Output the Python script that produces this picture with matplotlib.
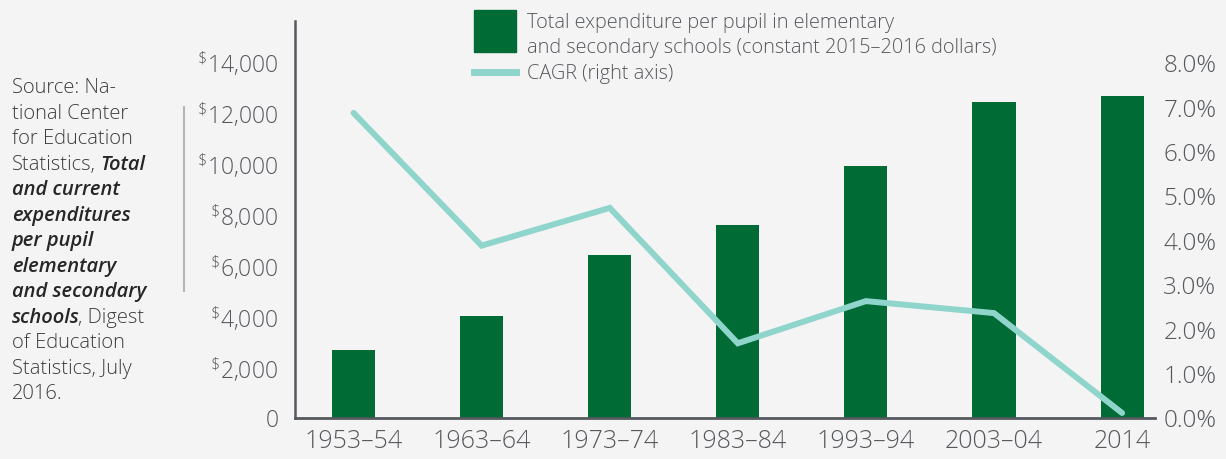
import numpy as np
import matplotlib
matplotlib.use("Agg")
from matplotlib import pyplot as plt
from matplotlib.patches import Rectangle
from matplotlib.lines import Line2D

plt.rcParams['font.family'] = ['Open Sans', 'DejaVu Sans']
plt.rcParams['font.weight'] = 'light'
plt.rcParams['mathtext.fontset'] = 'custom'
plt.rcParams['mathtext.rm'] = 'Open Sans:light'

# data
periods = ['1953\u201354', '1963\u201364', '1973\u201374', '1983\u201384',
           '1993\u201394', '2003\u201304', '2014']
spend = [2680, 4020, 6410, 7590, 9910, 12420, 12650]   # constant 2015-16 $
cagr = [6.88, 3.89, 4.74, 1.69, 2.64, 2.37, 0.12]       # percent
left_ticks = [0, 2000, 4000, 6000, 8000, 10000, 12000, 14000]
right_ticks = [0, 1, 2, 3, 4, 5, 6, 7, 8]

bg = '#f4f4f4'
green = '#006b35'
teal = '#8fd5cb'
grey = '#55585d'

W, H = 1226, 459
fig = plt.figure(figsize=(W / 100, H / 100), dpi=100, facecolor=bg)


def fx(px):
    return px / W


def fy(py):
    return 1 - py / H


ax = fig.add_axes([fx(295), fy(418.3), fx(1155) - fx(295), (418.3 - 21) / H])
ax.set_facecolor(bg)
x = np.arange(len(periods))
ax.bar(x, spend, width=0.336, color=green, zorder=2)
ax.set_xlim(-0.457, 6.257)
ax.set_ylim(0, 15600)
ax.set_yticks(left_ticks)
ax.set_yticklabels(['0'] + [r'$\mathregular{^{\$}}$' + f'{v:,}' for v in left_ticks[1:]])
ax.set_xticks(x)
ax.set_xticklabels(periods)
ax.tick_params(axis='both', length=0, labelsize=16.5, colors=grey)
ax.tick_params(axis='x', labelsize=18, pad=8)
ax.tick_params(axis='y', pad=12)
for s in ['top', 'right']:
    ax.spines[s].set_visible(False)
ax.spines['left'].set_color(grey)
ax.spines['left'].set_linewidth(1.8)
ax.spines['bottom'].set_color(grey)
ax.spines['bottom'].set_linewidth(2)
ax.spines['bottom'].set_zorder(5)

ax2 = ax.twinx()
ax2.plot(x, cagr, color=teal, lw=4.3, solid_capstyle='round',
         solid_joinstyle='miter', zorder=3)
ax2.set_ylim(0, 8.95)
ax2.set_yticks(right_ticks)
ax2.set_yticklabels([f'{v:.1f}%' for v in right_ticks])
ax2.tick_params(axis='y', length=0, labelsize=17.5, colors=grey, pad=6)
for s in ['top', 'right', 'left', 'bottom']:
    ax2.spines[s].set_visible(False)

# legend
fig.patches.append(Rectangle((fx(474), fy(52)), fx(516) - fx(474), (52 - 10) / H,
                             transform=fig.transFigure, color=green))
fig.lines.append(Line2D([fx(474), fx(516)], [fy(72), fy(72)], transform=fig.transFigure,
                        color=teal, lw=5))
fig.text(fx(527), fy(23), 'Total expenditure per pupil in elementary',
         fontsize=14.3, color=grey, va='center')
fig.text(fx(527), fy(48), 'and secondary schools (constant 2015\u20132016 dollars)',
         fontsize=14.3, color=grey, va='center')
fig.text(fx(527), fy(74), 'CAGR (right axis)', fontsize=14.3, color=grey, va='center')

# source note with mixed styles
fig.lines.append(Line2D([fx(184), fx(184)], [fy(107), fy(291)], transform=fig.transFigure,
                        color='#b5b5b5', lw=1.5))
n, b = 'n', 'b'
src = [
    [('Source: Na-', n)],
    [('tional Center', n)],
    [('for Education', n)],
    [('Statistics,', n), ('Total', b)],
    [('and current', b)],
    [('expenditures', b)],
    [('per pupil', b)],
    [('elementary', b)],
    [('and secondary', b)],
    [('schools', b), (', Digest', n)],
    [('of Education', n)],
    [('Statistics, July', n)],
    [('2016.', n)],
]
renderer = fig.canvas.get_renderer()
space = 4.5
for i, parts in enumerate(src):
    ypx = 86.7 + i * 25.5 + 6.5
    xpx = 12
    for j, (txt, st) in enumerate(parts):
        if st == b:
            t = fig.text(fx(xpx), fy(ypx), txt, fontsize=14.5, color='#262626',
                         style='italic', weight='semibold', va='baseline')
            xpx += t.get_window_extent(renderer).width - 2
        else:
            t = fig.text(fx(xpx), fy(ypx), txt, fontsize=14.5, color='#3d3d3d',
                         va='baseline')
            xpx += t.get_window_extent(renderer).width
        if txt.endswith(','):
            xpx += space

fig.savefig('out.png', dpi=100, facecolor=bg)
